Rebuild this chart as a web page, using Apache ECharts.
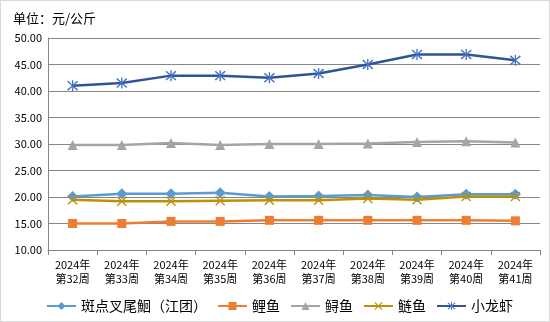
<!DOCTYPE html>
<html><head><meta charset="utf-8">
<script src="https://cdn.jsdelivr.net/npm/echarts@6/dist/echarts.min.js"></script>
<style>html,body{margin:0;padding:0;background:#fff}#c{width:548px;height:320px;border:1px solid #d9d9d9}</style>
</head><body><div id="c"></div>
<script>
const categories = ['2024年\n第32周','2024年\n第33周','2024年\n第34周','2024年\n第35周','2024年\n第36周','2024年\n第37周','2024年\n第38周','2024年\n第39周','2024年\n第40周','2024年\n第41周'];
const seriesNames = ['斑点叉尾鮰（江团）','鲤鱼','鲟鱼','鲢鱼','小龙虾'];
const catfish = [20.1, 20.6, 20.6, 20.8, 20.1, 20.2, 20.4, 20.0, 20.5, 20.5];
const carp = [15.0, 15.0, 15.4, 15.4, 15.6, 15.6, 15.6, 15.6, 15.6, 15.5];
const sturgeon = [29.8, 29.8, 30.2, 29.8, 30.0, 30.0, 30.1, 30.4, 30.5, 30.3];
const silverCarp = [19.5, 19.2, 19.2, 19.3, 19.4, 19.4, 19.7, 19.5, 20.1, 20.1];
const crayfish = [41.0, 41.5, 42.9, 42.9, 42.5, 43.3, 45.0, 46.9, 46.9, 45.8];

const xPath = 'path://M0,1 L1,0 L5,4 L9,0 L10,1 L6,5 L10,9 L9,10 L5,6 L1,10 L0,9 L4,5 Z';
const starPath = 'path://M0,1.5 L1,0.5 L5,4.3 L9,0.5 L10,1.5 L5.8,5 L10,8.5 L9,9.5 L5,5.7 L1,9.5 L0,8.5 L4.2,5 Z M4.4,0 L5.6,0 L5.6,10 L4.4,10 Z';
const font = '"Noto Sans CJK SC", sans-serif';
function mk(name, data, color, symbol, size, markerColor) {
  return {
    name, type: 'line', data, symbol, symbolSize: size,
    lineStyle: {color, width: 2.5},
    itemStyle: {color: markerColor || color, borderWidth: 0},
    emphasis: {disabled: true}, animation: false
  };
}
const chart = echarts.init(document.getElementById('c'));
chart.setOption({
  animation: false,
  title: {text: '单位：元/公斤', left: 7, top: 6, textStyle: {fontFamily: font, fontSize: 13, fontWeight: 'normal', color: '#000'}},
  grid: {left: 47, right: 9, top: 37, bottom: 71},
  xAxis: {
    type: 'category', data: categories, boundaryGap: true,
    axisLine: {lineStyle: {color: '#868686'}},
    axisTick: {show: true, length: 5, lineStyle: {color: '#868686'}},
    axisLabel: {fontFamily: font, fontSize: 11, color: '#000', lineHeight: 14, margin: 8, interval: 0}
  },
  yAxis: {
    type: 'value', min: 10, max: 50, interval: 5,
    axisLine: {show: true, lineStyle: {color: '#868686'}},
    axisTick: {show: false},
    splitLine: {lineStyle: {color: '#868686'}},
    axisLabel: {fontFamily: font, fontSize: 11, color: '#000', formatter: v => v.toFixed(2), margin: 6}
  },
  legend: {
    bottom: 3, left: 40, itemWidth: 29, itemHeight: 10, itemGap: 10,
    textStyle: {fontFamily: font, fontSize: 14, color: '#000'},
    data: seriesNames
  },
  series: [
    mk(seriesNames[0], catfish, '#5B9BD5', 'diamond', 11),
    mk(seriesNames[1], carp, '#ED7D31', 'rect', 9),
    mk(seriesNames[2], sturgeon, '#A5A5A5', 'triangle', 10),
    mk(seriesNames[3], silverCarp, '#BF9000', xPath, 10, '#BF9000'),
    mk(seriesNames[4], crayfish, '#2F5597', starPath, 11, '#4472C4')
  ]
});
</script></body></html>
